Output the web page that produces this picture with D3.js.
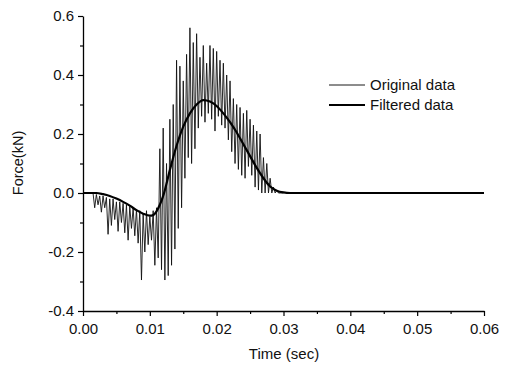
<!DOCTYPE html>
<html>
<head>
<meta charset="utf-8">
<script src="https://cdn.jsdelivr.net/npm/d3@7"></script>
<style>
  body { margin: 0; background: #fff; }
  text { font-family: "Liberation Sans", Arial, sans-serif; fill: #111; }
</style>
</head>
<body>
<div id="chart-area"></div>
<script>
// raw force signal, sampled every 0.25 ms from t = 0
var origStep = 0.00025;
var origForce = [
  0, 0, 0, 0, 0, 0, 0, -0.05,
  -0.005, -0.04, -0.01, -0.065, -0.01, -0.05, -0.015, -0.14,
  -0.02, -0.11, -0.02, -0.09, -0.03, -0.13, -0.03, -0.10,
  -0.035, -0.135, -0.04, -0.16, -0.045, -0.12, -0.05, -0.145,
  -0.055, -0.17, -0.06, -0.295, -0.07, -0.20, -0.06, -0.175,
  -0.08, -0.16, -0.06, -0.245, -0.05, -0.22, 0.15, -0.26,
  0.22, -0.295, 0.10, -0.28, 0.25, -0.245, 0.30, -0.19,
  0.45, -0.12, 0.43, -0.05, 0.38, 0.05, 0.47, 0.12,
  0.56, 0.10, 0.51, 0.15, 0.54, 0.22, 0.46, 0.26,
  0.50, 0.24, 0.44, 0.27, 0.50, 0.25, 0.49, 0.21,
  0.48, 0.26, 0.45, 0.23, 0.44, 0.22, 0.40, 0.18,
  0.38, 0.14, 0.32, 0.10, 0.30, 0.08, 0.29, 0.06,
  0.27, 0.05, 0.28, 0.09, 0.25, 0.06, 0.23, 0.02,
  0.21, 0.01, 0.20, 0.0, 0.12, 0.0, 0.10, 0.0,
  0.05, 0.0, 0.02, 0.0, 0.01, 0, 0, 0, 0
];

// low-pass filtered signal
var filtTime = [0, 0.002, 0.003, 0.004, 0.005, 0.006, 0.007, 0.008, 0.009, 0.010, 0.0105,
  0.011, 0.0115, 0.012, 0.013, 0.014, 0.015, 0.016, 0.017, 0.018, 0.019, 0.020, 0.021,
  0.022, 0.023, 0.024, 0.025, 0.026, 0.027, 0.028, 0.029, 0.030, 0.031, 0.06];
var filtForce = [0, 0, -0.004, -0.01, -0.019, -0.03, -0.043, -0.058, -0.07, -0.077, -0.075,
  -0.062, -0.04, -0.01, 0.078, 0.16, 0.225, 0.27, 0.30, 0.315, 0.31, 0.295, 0.27,
  0.24, 0.205, 0.165, 0.125, 0.085, 0.05, 0.022, 0.008, 0.002, 0, 0];

var xTicks = [0, 0.01, 0.02, 0.03, 0.04, 0.05, 0.06];
var yTicks = [-0.4, -0.2, 0.0, 0.2, 0.4, 0.6];
var seriesNames = ["Original data", "Filtered data"];

var width = 510;
var height = 365;
var margin = { top: 16, right: 26, bottom: 54, left: 83 };
var charWidth = width - margin.left - margin.right;
var charHeight = height - margin.top - margin.bottom;

var svg = d3.select("#chart-area")
  .append("svg")
  .attr("width", width)
  .attr("height", height);
var g = svg.append("g")
  .attr("transform", "translate(" + margin.left + ", " + margin.top + ")");

var x = d3.scaleLinear().domain([0, 0.06]).range([0, charWidth]);
var y = d3.scaleLinear().domain([-0.4, 0.6]).range([charHeight, 0]);

var origData = origForce.map((v, i) => ({ t: i * origStep, f: v }));
var filtData = filtTime.map((t, i) => ({ t: t, f: filtForce[i] }));

var line = d3.line().x(d => x(d.t)).y(d => y(d.f));

g.append("path")
  .datum(origData)
  .attr("fill", "none")
  .attr("stroke", "#111")
  .attr("stroke-width", 0.9)
  .attr("d", line);

g.append("path")
  .datum(filtData)
  .attr("fill", "none")
  .attr("stroke", "#000")
  .attr("stroke-width", 2.2)
  .attr("d", d3.line().curve(d3.curveMonotoneX).x(d => x(d.t)).y(d => y(d.f)));

// minor ticks
g.append("g")
  .attr("transform", "translate(0, " + charHeight + ")")
  .call(d3.axisBottom(x).tickValues(d3.range(0.005, 0.06, 0.01)).tickSize(3).tickFormat(""))
  .call(a => a.select(".domain").remove());
g.append("g")
  .call(d3.axisLeft(y).tickValues([-0.3, -0.1, 0.1, 0.3, 0.5]).tickSize(3).tickFormat(""))
  .call(a => a.select(".domain").remove());

var hyphen = f => (v => f(v).replace("\u2212", "-"));

var bottomAxis = d3.axisBottom(x).tickValues(xTicks).tickSize(5).tickSizeOuter(0)
  .tickFormat(hyphen(d3.format(".2f")));
g.append("g")
  .attr("class", "x axis")
  .attr("transform", "translate(0, " + charHeight + ")")
  .call(bottomAxis)
  .call(a => a.select(".domain").attr("stroke-width", 1.3))
  .selectAll("text")
  .attr("font-size", "15px")
  .attr("dy", "1em");

var leftAxis = d3.axisLeft(y).tickValues(yTicks).tickSize(5).tickSizeOuter(0)
  .tickFormat(hyphen(d3.format(".1f")));
g.append("g")
  .attr("class", "y axis")
  .call(leftAxis)
  .call(a => a.select(".domain").attr("stroke-width", 1.3))
  .selectAll("text")
  .attr("font-size", "15px")
  .attr("x", -9);

svg.selectAll(".tick line").attr("stroke-width", 1.2);

svg.append("text")
  .attr("x", -163)
  .attr("y", 23)
  .attr("text-anchor", "middle")
  .attr("transform", "rotate(-90)")
  .attr("font-size", "14.5px")
  .text("Force(kN)");

svg.append("text")
  .attr("x", 284)
  .attr("y", 359)
  .attr("text-anchor", "middle")
  .attr("font-size", "15px")
  .text("Time (sec)");

// legend
var legend = svg.append("g").attr("transform", "translate(329, 85)");
legend.selectAll("line")
  .data(seriesNames).enter()
  .append("line")
  .attr("x1", 0).attr("x2", 36)
  .attr("y1", (d, i) => i * 20).attr("y2", (d, i) => i * 20)
  .attr("stroke", "#000")
  .attr("stroke-width", (d, i) => i === 0 ? 0.9 : 2);
legend.selectAll("text")
  .data(seriesNames).enter()
  .append("text")
  .attr("x", 41)
  .attr("y", (d, i) => i * 20 + 5)
  .attr("font-size", "15px")
  .text(d => d);
</script>
</body>
</html>
